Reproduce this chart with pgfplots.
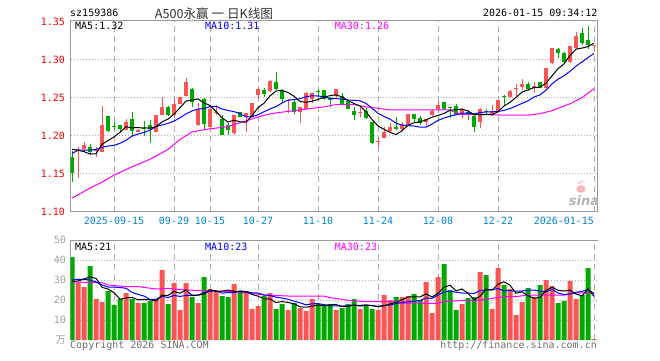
\documentclass[border=0pt]{standalone}
\usepackage{fontspec}
\usepackage{pgfplots}
\pgfplotsset{compat=1.18}
\usepackage{pgfplotstable}
\setmonofont{DejaVu Sans Mono}
\setsansfont{DejaVu Sans}
\newfontfamily\cjk{Noto Sans CJK SC}
\definecolor{cred}{RGB}{250,85,85}
\definecolor{cgreen}{RGB}{0,168,0}
\definecolor{bordergray}{RGB}{153,153,153}
\definecolor{gridgray}{RGB}{175,175,175}
\definecolor{datecol}{RGB}{0,132,216}
\definecolor{pricered}{RGB}{255,0,0}
\definecolor{volgray}{RGB}{160,160,160}
\definecolor{mablue}{RGB}{0,0,255}
\definecolor{mamag}{RGB}{255,0,255}
\definecolor{txtgray}{RGB}{110,110,110}

\pgfplotstableread{
i O H L C up V m5 m10 vm5 vm10
0 1.1719 1.1800 1.1395 1.1513 0 41.5 1.182 1.1768 29.5 30
1 1.1803 1.1846 1.1439 1.1820 1 28.7 1.181 1.1807 29.5 30.3
2 1.1829 1.1912 1.1789 1.1873 1 26.5 1.179 1.1810 30.5 30.3
3 1.1851 1.1895 1.1746 1.1789 0 37 1.176 1.1810 31.5 30
4 1.1794 1.1846 1.1715 1.1811 1 20.5 1.1761 1.1820 30.84 29
5 1.1789 1.2395 1.1780 1.2140 1 19 1.1887 1.1846 26.34 27.5
6 1.2259 1.2259 1.2053 1.2066 0 24.5 1.1936 1.1864 25.5 26.5
7 1.2123 1.2175 1.2075 1.2114 0 17.5 1.1984 1.1873 23.7 26.5
8 1.2140 1.2140 1.2050 1.2092 0 20.5 1.2045 1.1900 20.4 26.2
9 1.2075 1.2215 1.2075 1.2180 1 23.5 1.2118 1.1940 21 25.9
10 1.2215 1.2307 1.1996 1.2066 0 20.5 1.2104 1.1995 21.3 23.8
11 1.2053 1.2088 1.2048 1.2079 1 18.5 1.2106 1.2021 20.1 22.8
12 1.2105 1.2193 1.1996 1.2092 0 18.5 1.2102 1.2043 20.3 22
13 1.2136 1.2206 1.1908 1.2088 0 19.5 1.2101 1.2073 20.1 20.3
14 1.2053 1.2276 1.2053 1.2268 1 20.5 1.2119 1.2119 19.5 20.3
15 1.2272 1.2509 1.2272 1.2377 1 35 1.2181 1.2142 22.4 21.9
16 1.2377 1.2395 1.2259 1.2268 0 18 1.2219 1.2162 22.3 21.2
17 1.2272 1.2491 1.2228 1.2421 1 28.5 1.2284 1.2193 24.3 22.3
18 1.2421 1.2509 1.2412 1.2509 1 15 1.2369 1.2235 23.4 21.8
19 1.2522 1.2763 1.2522 1.2706 1 28.5 1.2456 1.2287 25 22.3
20 1.2610 1.2623 1.2382 1.2439 0 21.5 1.2469 1.2325 22.3 22.4
21 1.2140 1.2434 1.2132 1.2346 1 18.5 1.2484 1.2351 22.4 22.4
22 1.2478 1.2491 1.2075 1.2154 0 31.5 1.2431 1.2358 23 23.7
23 1.2118 1.2395 1.2096 1.2346 1 25.5 1.2398 1.2383 25.1 24.3
24 1.2303 1.2404 1.2272 1.2316 1 24.5 1.2320 1.2388 24.3 24.7
25 1.2215 1.2272 1.2009 1.2009 0 22 1.2234 1.2351 24.4 23.4
26 1.2140 1.2162 1.2009 1.2075 0 21.5 1.2180 1.2332 25 23.7
27 1.2031 1.2272 1.2009 1.2272 1 28 1.2204 1.2317 24.3 23.7
28 1.2307 1.2316 1.2241 1.2241 0 24.5 1.2183 1.2290 24.1 24.6
29 1.2250 1.2294 1.2053 1.2294 1 24.5 1.2178 1.2249 24.1 24.2
30 1.2241 1.2434 1.2241 1.2434 1 15.5 1.2263 1.2249 22.8 23.6
31 1.2535 1.2645 1.2478 1.2614 1 17 1.2371 1.2276 21.9 23.5
32 1.2601 1.2630 1.2513 1.2553 0 22 1.2427 1.2315 20.7 22.5
33 1.2588 1.2732 1.2579 1.2724 1 23.5 1.2524 1.2353 20.5 22.3
34 1.2702 1.2833 1.2601 1.2614 0 15.5 1.2588 1.2383 18.7 21.4
35 1.2592 1.2610 1.2434 1.2478 0 18 1.2597 1.2430 19.2 21
36 1.2461 1.2478 1.2303 1.2469 1 15 1.2568 1.2469 18.8 20.4
37 1.2447 1.2478 1.2281 1.2316 0 18.5 1.2520 1.2474 18.1 19.4
38 1.2307 1.2373 1.2171 1.2373 1 16 1.2450 1.2487 16.6 18.6
39 1.2346 1.2579 1.2346 1.2557 1 14.5 1.2439 1.2513 16.4 17.6
40 1.2478 1.2557 1.2434 1.2557 1 20.5 1.2454 1.2526 16.9 18.1
41 1.2588 1.2610 1.2522 1.2575 0 18 1.2476 1.2522 17.5 18.2
42 1.2601 1.2601 1.2469 1.2478 0 17 1.2508 1.2514 17.2 17.7
43 1.2491 1.2513 1.2382 1.2469 0 18 1.2527 1.2489 17.6 17.1
44 1.2522 1.2610 1.2478 1.2610 1 15 1.2538 1.2488 17.7 17.1
45 1.2522 1.2557 1.2417 1.2417 0 16 1.2510 1.2482 16.8 16.9
46 1.2461 1.2469 1.2346 1.2346 0 18 1.2464 1.2470 16.8 17.2
47 1.2329 1.2373 1.2206 1.2272 0 20.5 1.2423 1.2465 17.5 17.4
48 1.2303 1.2373 1.2241 1.2311 1 15.5 1.2391 1.2459 17 17.3
49 1.2329 1.2360 1.2215 1.2228 0 17 1.2315 1.2426 17.4 17.6
50 1.2184 1.2184 1.1890 1.1908 0 15.5 1.2213 1.2361 17.3 17.1
51 1.1912 1.1978 1.1825 1.1921 1 15 1.2128 1.2296 16.7 16.8
52 1.1965 1.2118 1.1965 1.2053 1 22.5 1.2084 1.2254 17.1 17.3
53 1.2061 1.2171 1.2039 1.2110 1 20 1.2044 1.2218 18 17.5
54 1.2110 1.2241 1.2075 1.2088 0 21.5 1.2016 1.2165 18.9 18.2
55 1.2088 1.2184 1.2075 1.2154 1 21.5 1.2065 1.2139 20.1 18.7
56 1.2140 1.2285 1.2140 1.2285 1 22 1.2138 1.2133 21.5 19.1
57 1.2285 1.2285 1.2171 1.2215 0 23 1.2170 1.2127 21.6 19.4
58 1.2228 1.2259 1.2140 1.2171 0 20 1.2183 1.2113 21.6 19.8
59 1.2184 1.2215 1.2127 1.2215 1 29 1.2208 1.2112 23.1 21
60 1.2272 1.2346 1.2263 1.2329 1 13.5 1.2243 1.2154 21.5 20.8
61 1.2346 1.2461 1.2303 1.2404 1 31.5 1.2267 1.2202 23.4 22.5
62 1.2446 1.2446 1.2338 1.2351 0 38 1.2294 1.2232 26.4 24
63 1.2378 1.2378 1.2228 1.2368 0 25 1.2333 1.2258 27.4 24.5
64 1.2395 1.2417 1.2272 1.2272 0 15 1.2344 1.2275 24.6 23.9
65 1.2272 1.2369 1.2228 1.2351 1 18 1.2349 1.2296 25.5 23.5
66 1.2316 1.2338 1.2206 1.2285 0 21 1.2325 1.2297 23.4 23.4
67 1.2263 1.2270 1.2053 1.2118 0 21.5 1.2279 1.2287 20.1 23.3
68 1.2184 1.2369 1.2097 1.2351 1 34 1.2275 1.2304 21.9 24.7
69 1.2320 1.2351 1.2272 1.2307 0 32.5 1.2282 1.2313 25.4 25
70 1.2272 1.2404 1.2263 1.2325 1 15.5 1.2277 1.2313 24.9 25.2
71 1.2325 1.2478 1.2316 1.2469 1 36 1.2314 1.2319 27.9 25.7
72 1.2518 1.2535 1.2404 1.2505 0 27.5 1.2391 1.2333 29.1 24.6
73 1.2513 1.2601 1.2504 1.2588 1 25.5 1.2439 1.2357 27.4 24.7
74 1.2614 1.2675 1.2526 1.2632 1 12.5 1.2504 1.2390 23.4 24.4
75 1.2640 1.2746 1.2601 1.2675 1 19 1.2574 1.2425 24.1 24.5
76 1.2675 1.2702 1.2592 1.2614 0 26 1.2603 1.2459 22.1 25
77 1.2623 1.2702 1.2557 1.2654 1 21.5 1.2633 1.2510 20.9 25
78 1.2702 1.2702 1.2623 1.2623 0 27.5 1.2640 1.2537 21.3 24.4
79 1.2623 1.2895 1.2623 1.2895 1 30 1.2692 1.2599 24.8 24.1
80 1.2952 1.3149 1.2939 1.3149 1 27 1.2787 1.2682 26.4 25.3
81 1.3140 1.3158 1.3026 1.3092 0 18.5 1.2883 1.2744 24.9 23.5
82 1.3083 1.3096 1.2952 1.2965 0 19.5 1.2945 1.2789 24.5 22.7
83 1.2974 1.3180 1.2952 1.3180 1 29.5 1.3056 1.2848 24.9 23.1
84 1.3149 1.3368 1.3140 1.3311 1 20.5 1.3139 1.2916 23 23.9
85 1.3346 1.3412 1.3193 1.3215 0 22.5 1.3153 1.2970 22.1 24.3
86 1.3259 1.3439 1.3140 1.3193 0 36 1.3173 1.3028 25.6 25.3
87 1.3180 1.3193 1.3114 1.3193 1 0.5 1.3218 1.3082 21.8 23.2
}\kdata

\pgfplotsset{
  kbase/.style={
    scale only axis, width=527pt,
    xmin=-0.25, xmax=87.58,
    major tick length=0pt,
    axis line style={draw=bordergray, line width=1pt},
    xmajorgrids, x grid style={draw=gridgray, line width=1pt, dash pattern=on 6pt off 4pt},
    ymajorgrids, y grid style={draw=gridgray, line width=0.8pt, dash pattern=on 1pt off 2pt},
    tick label style={font=\ttfamily\fontsize{10}{12}\selectfont},
  },
  stick/.style n args={4}{mark=none, #2, line width=#3, -,
    restrict expr to domain={\thisrow{up}}{#1},
    quiver={u=0, v={#4}, every arrow/.append style={-, line cap=butt}}},
}

\begin{document}
\begin{tikzpicture}
\useasboundingbox (0pt,0pt) rectangle (660pt,-360pt);

% ---------------- price panel ----------------
\begin{axis}[kbase,
  at={(70.5pt,-211.7pt)}, anchor=south west, height=191.7pt,
  ymin=1.10, ymax=1.35224,
  xtick={7,17,23,31,41,51,61,71},
  xticklabels={2025-09-15,09-29,10-15,10-27,11-10,11-24,12-08,12-22},
  extra x ticks={87}, extra x tick labels={2026-01-15},
  extra x tick style={grid=major, tick label style={anchor=north east, xshift=3.5pt}},
  xticklabel style={text=datecol, yshift=-1.5pt},
  ytick={1.15,1.2,1.25,1.3}, yticklabels={1.15,1.20,1.25,1.30},
  extra y ticks={1.10,1.35}, extra y tick labels={1.10,1.35},
  extra y tick style={grid=none},
  yticklabel style={text=pricered, xshift=-2pt},
]
% wicks: from L up by H-L
\addplot[stick={0.5:1.5}{cred}{1pt}{\thisrow{H}-\thisrow{L}}] table[x=i, y=L] {\kdata};
\addplot[stick={-0.5:0.5}{cgreen}{1pt}{\thisrow{H}-\thisrow{L}}] table[x=i, y=L] {\kdata};
% bodies: from min(O,C) up by |C-O|
\addplot[stick={0.5:1.5}{cred}{4.5pt}{max(\thisrow{C}-\thisrow{O},0.0013)}] table[x=i, y=O] {\kdata};
\addplot[stick={-0.5:0.5}{cgreen}{4.5pt}{max(\thisrow{O}-\thisrow{C},0.0013)}] table[x=i, y=C] {\kdata};
\addplot[mamag, line width=1pt, mark=none] coordinates {
(0,1.118) (3,1.131) (5,1.139) (7,1.148) (10,1.159) (13,1.169) (16,1.182) (18,1.195) (20,1.205) (22,1.208) (24,1.210) (26,1.212) (28,1.217) (30,1.222) (32,1.227) (34,1.230) (36,1.232) (38,1.234) (40,1.236) (42,1.238) (44,1.241) (47,1.241) (49,1.238) (51,1.236) (53,1.234) (60,1.234) (63,1.234) (64,1.230) (65,1.228) (68,1.228) (72,1.227) (76,1.227) (78,1.229) (80,1.233) (81,1.236) (83,1.242) (85,1.250) (87,1.262)};
\addplot[mablue, line width=1pt, mark=none] table[x=i, y=m10] {\kdata};
\addplot[black, line width=1pt, mark=none] table[x=i, y=m5] {\kdata};
\end{axis}

% ---------------- volume panel ----------------
\begin{axis}[kbase,
  at={(70.5pt,-340pt)}, anchor=south west, height=100pt,
  ymin=0, ymax=50,
  axis x line*=top, axis y line*=left,
  axis line style={-},
  xtick={7,17,23,31,41,51,61,71,87}, xticklabels={},
  ytick={10,20,30,40}, yticklabels={10,20,30,40},
  extra y ticks={50}, extra y tick labels={50}, extra y tick style={grid=none},
  yticklabel style={text=volgray, xshift=-1pt},
]
\addplot[ybar, bar width=5pt, bar shift=0pt, fill=cred, draw=none, restrict expr to domain={\thisrow{up}}{0.5:1.5}] table[x=i, y=V] {\kdata};
\addplot[ybar, bar width=5pt, bar shift=0pt, fill=cgreen, draw=none, restrict expr to domain={\thisrow{up}}{-0.5:0.5}] table[x=i, y=V] {\kdata};
\addplot[mamag, line width=1pt, mark=none] coordinates {
(0,29) (5,28.7) (6,27.5) (9,26.7) (11,26.7) (14,25.5) (16,25.8) (19,25) (24,24.5) (27,24.2) (30,23.3) (32,22.5) (36,22) (42,22) (43,21.2) (44,20.8) (46,19.8) (49,19.2) (54,19.2) (55,18.5) (61,18.3) (62,19.2) (65,19.8) (68,19.8) (70,20.8) (72,21.7) (74,21.7) (76,22.5) (82,22.5) (84,23.5) (87,23.6)};
\addplot[mablue, line width=1pt, mark=none] table[x=i, y=vm10] {\kdata};
\addplot[black, line width=1pt, mark=none] table[x=i, y=vm5] {\kdata};
\end{axis}

% ---------------- texts ----------------
\begin{scope}[every node/.style={inner sep=0pt, font=\ttfamily\fontsize{10}{12}\selectfont}]
\node[anchor=west] at (70pt,-13.3pt) {sz159386};
\node[anchor=center, text={rgb,255:red,50;green,50;blue,50}] at (214pt,-13.3pt) {\cjk\fontsize{12.6}{14}\selectfont A500永赢 一 日K线图};
\node[anchor=east] at (597.7pt,-13.3pt) {2026-01-15 09:34:12};
\node[anchor=west] at (75pt,-26pt) {MA5:1.32};
\node[anchor=west, text=mablue] at (205pt,-26pt) {MA10:1.31};
\node[anchor=west, text=mamag] at (334.7pt,-26pt) {MA30:1.26};
\node[anchor=west] at (75pt,-246.7pt) {MA5:21};
\node[anchor=west, text=mablue] at (205pt,-246.7pt) {MA10:23};
\node[anchor=west, text=mamag] at (334.7pt,-246.7pt) {MA30:23};
\node[anchor=west, text=txtgray] at (70pt,-345.5pt) {Copyright 2026 SINA.COM};
\node[anchor=east, text=txtgray] at (597pt,-345.5pt) {http://finance.sina.com.cn};
\node[anchor=east, text=volgray] at (66pt,-340pt) {\cjk\fontsize{10}{12}\selectfont 万};
\node[anchor=center, text=black!30] at (584pt,-201pt) {\sffamily\bfseries\itshape\fontsize{13}{13}\selectfont sina};
\end{scope}
\fill[cred!30] (581pt,-189pt) ellipse (5pt and 4pt);
\draw[cred!55, line width=1.2pt] (581pt,-189pt) circle (2.6pt);
\draw[cred!45, line width=0.9pt] (585pt,-182pt) arc (60:150:5pt);
\end{tikzpicture}
\end{document}
